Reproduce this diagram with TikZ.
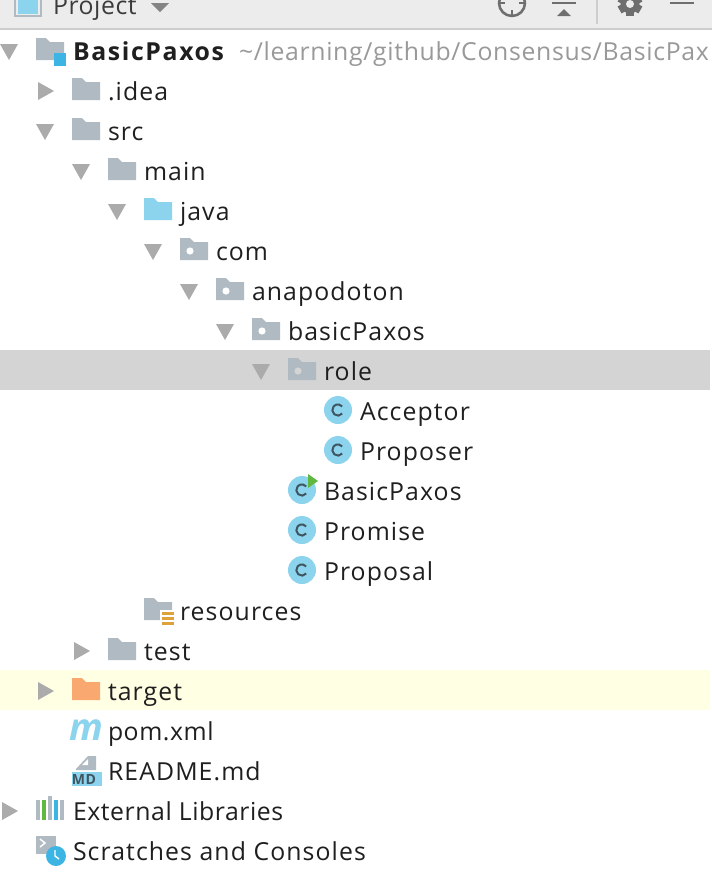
\documentclass[tikz,border=0pt]{standalone}
\usepackage{fontspec}
\setmainfont{Open Sans}[LetterSpace=4.4]
\newfontfamily\boldtxt{Open Sans Bold}[LetterSpace=6.6]
\newfontfamily\tighttxt{Open Sans}[LetterSpace=2.3]
\newfontfamily\pathtxt{Open Sans}[LetterSpace=2.7]
\definecolor{folderc}{HTML}{AFBAC2}
\definecolor{bluec}{HTML}{8CD4EE}
\definecolor{blued}{HTML}{3DB5E4}
\definecolor{orangec}{HTML}{F9A870}
\definecolor{tric}{HTML}{ABABAB}
\definecolor{hl}{HTML}{D4D4D4}
\definecolor{yel}{HTML}{FFFFE4}
\definecolor{head}{HTML}{ECECEC}
\definecolor{headline}{HTML}{CDCDCD}
\definecolor{iconc}{HTML}{6E6E6E}
\definecolor{txt}{HTML}{1F1F1F}
\definecolor{pathc}{HTML}{999999}
\definecolor{cletter}{HTML}{3F5560}
\definecolor{grn}{HTML}{5FB83F}
\definecolor{resc}{HTML}{DDA23C}
\tikzset{
  x=0.75pt,y=-0.75pt,
  lbl/.style={anchor=base west,inner sep=0pt,outer sep=0pt,text=txt,font=\fontsize{18.6pt}{20pt}\selectfont},
}
\newcommand{\foldershape}[3]{% x, centre y, colour
  \fill[#3] (#1,#2-13) -- (#1+10,#2-13) -- (#1+14,#2-9) -- (#1+28,#2-9) -- (#1+28,#2+9) -- (#1,#2+9) -- cycle;}
\newcommand{\pkgfolder}[3]{% x, y, dot colour
  \foldershape{#1}{#2}{folderc}
  \fill[#3] (#1+10,#2) circle (3.6);}
\newcommand{\tridown}[2]{\fill[tric] (#1-36,#2-7) -- (#1-18,#2-7) -- (#1-27,#2+9) -- cycle;}
\newcommand{\triright}[2]{\fill[tric] (#1-34,#2-9) -- (#1-18,#2) -- (#1-34,#2+9) -- cycle;}
\newcommand{\classicon}[2]{%
  \fill[bluec] (#1,#2-1) circle (14);
  \draw[cletter,line width=1.5pt] (#1+4.2,#2+2.6) arc (40:320:5.6);}
\newcommand{\rowlabel}[4]{\node[lbl] (#1) at (#2,#3+9) {#4};}
\begin{document}
\begin{tikzpicture}
\useasboundingbox (0,0) rectangle (712,890);
\fill[white] (0,0) rectangle (712,890);
% header
\fill[head] (0,0) rectangle (712,28);
\fill[headline] (0,28) rectangle (712,30);
\begin{scope}
\clip (0,0) rectangle (712,890);
\draw[folderc,line width=1.1pt,fill=head] (15,-10) rectangle (41,16);
\fill[bluec] (18,-10) rectangle (38,14);
\node[lbl,text=iconc!55!black,font=\fontsize{18.6pt}{20pt}\selectfont\tighttxt] (project) at (53,14) {Project};
\fill[iconc!85!white] (151,3) -- (169,3) -- (160,12) -- cycle;
% crosshair
\draw[iconc,line width=1.9pt] (512,3) circle (13);
\draw[iconc,line width=1.6pt] (499,3) -- (505,3) (519,3) -- (525,3) (512,10) -- (512,16);
% collapse
\draw[iconc,line width=1.8pt] (552,3) -- (576,3);
\fill[iconc] (557,16) -- (571,16) -- (564,9) -- cycle;
\draw[headline,line width=0.9pt] (597,0) -- (597,24);
% gear
\foreach \a in {0,60,120}{\fill[iconc,rotate around={\a:(630,4)}] (626,-8) rectangle (634,16);}
\fill[iconc] (630,4) circle (9.5);
\fill[head] (630,4) circle (4);
\draw[iconc,line width=1.8pt] (670,3) -- (694,3);
\end{scope}
% highlights
\fill[hl] (0,350) rectangle (710,390);
\fill[yel] (0,670) rectangle (710,710);
% BasicPaxos root
\fill[tric] (0,44) -- (18,44) -- (9,60) -- cycle;
\foldershape{36}{51}{folderc}
\fill[blued] (54,53) rectangle (66,66);
\node[lbl,font=\fontsize{18.6pt}{20pt}\selectfont\boldtxt] (root) at (73,60) {BasicPaxos};
\node[lbl,text=pathc,font=\fontsize{18.6pt}{20pt}\selectfont\pathtxt] (rootpath) at (239,60) {\textasciitilde/learning/github/Consensus/BasicPax};
% .idea
\triright{72}{91}\foldershape{72}{91}{folderc}\rowlabel{idea}{108}{91}{.idea}
% src
\tridown{72}{131}\foldershape{72}{131}{folderc}\rowlabel{src}{108}{131}{src}
% main
\tridown{108}{171}\foldershape{108}{171}{folderc}\rowlabel{main}{144}{171}{main}
% java
\tridown{144}{211}\foldershape{144}{211}{bluec}\rowlabel{java}{180}{211}{java}
% com
\tridown{180}{251}\pkgfolder{180}{251}{white}\rowlabel{com}{216}{251}{com}
% anapodoton
\tridown{216}{291}\pkgfolder{216}{291}{white}\rowlabel{anapodoton}{252}{291}{anapodoton}
% basicPaxos
\tridown{252}{331}\pkgfolder{252}{331}{white}\rowlabel{basicPaxosPkg}{288}{331}{basicPaxos}
% role
\tridown{288}{371}\pkgfolder{288}{371}{hl}\rowlabel{role}{324}{371}{role}
% classes
\classicon{338}{411}\rowlabel{acceptor}{360}{411}{Acceptor}
\classicon{338}{451}\rowlabel{proposer}{360}{451}{Proposer}
\classicon{302}{491}\rowlabel{basicPaxosCls}{324}{491}{BasicPaxos}
\fill[grn] (308,474) -- (318,481) -- (308,488) -- cycle;
\classicon{302}{531}\rowlabel{promise}{324}{531}{Promise}
\classicon{302}{571}\rowlabel{proposal}{324}{571}{Proposal}
% resources
\foldershape{144}{611}{folderc}
\fill[white] (160,610) rectangle (176,627);
\foreach \yy in {612,617,622}{\fill[resc] (162,\yy) rectangle (174,\yy+3);}
\rowlabel{resources}{180}{611}{resources}
% test
\triright{108}{651}\foldershape{108}{651}{folderc}\rowlabel{test}{144}{651}{test}
% target
\triright{72}{691}\foldershape{72}{691}{orangec}\rowlabel{target}{108}{691}{target}
% pom
\node[anchor=base,inner sep=0,text=bluec,font=\fontsize{28pt}{29pt}\selectfont\bfseries\itshape] (pomicon) at (86,740) {m};
\rowlabel{pom}{108}{731}{\tighttxt pom.xml}
% README
\fill[folderc] (76,769) -- (88,756) -- (96,756) -- (96,770) -- (76,770) -- cycle;
\fill[white] (82,765) -- (88,759) -- (88,765) -- cycle;
\fill[bluec] (72,772) rectangle (102,786);
\node[anchor=center,inner sep=0,text=cletter,font=\fontsize{10.5pt}{11pt}\selectfont\bfseries] (mdicon) at (84,779.5) {MD};
\rowlabel{readme}{108}{771}{README.md}
% External Libraries
\fill[tric] (2,802) -- (18,811) -- (2,820) -- cycle;
\fill[folderc] (36,800) rectangle (40,820);
\fill[grn] (42,800) rectangle (46,820);
\fill[folderc] (48,796) rectangle (52,820);
\fill[blued] (54,800) rectangle (58,820);
\fill[folderc] (60,800) rectangle (64,820);
\rowlabel{extlib}{73}{811}{\tighttxt External Libraries}
% Scratches
\fill[folderc] (36,836) rectangle (56,854);
\draw[white,line width=1.1pt] (40,839) -- (45,843) -- (40,847);
\fill[blued] (56,856) circle (10);
\draw[white,line width=1.1pt] (55,850) -- (55,856) -- (59,859);
\rowlabel{scratches}{73}{851}{Scratches and Consoles}
\end{tikzpicture}
\end{document}
